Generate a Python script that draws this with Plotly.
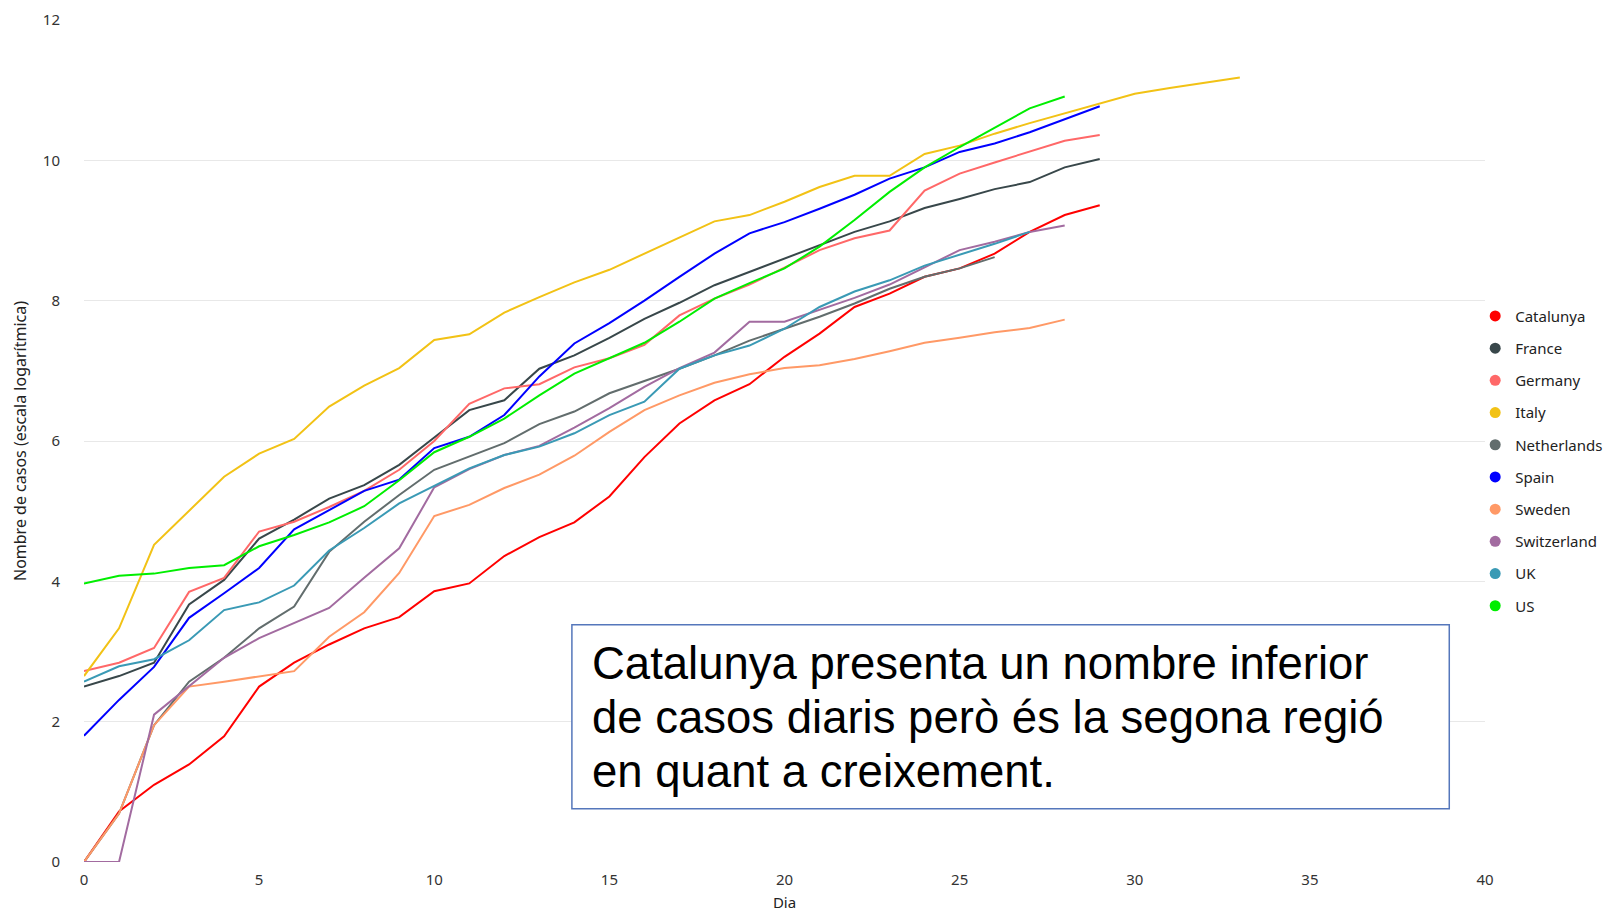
import plotly.graph_objects as go

# log of cumulative cases per day since the first case
catalunya = [0, 0.72, 1.10, 1.39, 1.79, 2.50, 2.84, 3.10, 3.33, 3.49, 3.86, 3.97, 4.36, 4.63, 4.84,
             5.21, 5.77, 6.25, 6.58, 6.81, 7.20, 7.53, 7.91, 8.10, 8.34, 8.46, 8.67, 8.98, 9.22, 9.36]
france = [2.50, 2.65, 2.84, 3.67, 4.02, 4.61, 4.88, 5.18, 5.37, 5.66, 6.05, 6.44, 6.58, 7.03, 7.22,
          7.47, 7.74, 7.97, 8.22, 8.41, 8.59, 8.78, 8.98, 9.13, 9.32, 9.45, 9.59, 9.69, 9.90, 10.02]
germany = [2.72, 2.84, 3.05, 3.85, 4.05, 4.71, 4.85, 5.06, 5.29, 5.59, 6.00, 6.53, 6.75, 6.81, 7.05,
           7.18, 7.37, 7.79, 8.03, 8.23, 8.47, 8.72, 8.89, 9.00, 9.57, 9.81, 9.97, 10.12, 10.28, 10.36]
italy = [2.65, 3.33, 4.52, 5.00, 5.49, 5.82, 6.03, 6.49, 6.79, 7.04, 7.44, 7.52, 7.83, 8.05, 8.26,
         8.44, 8.67, 8.91, 9.13, 9.22, 9.41, 9.62, 9.78, 9.78, 10.09, 10.21, 10.38, 10.53, 10.67,
         10.81, 10.95, 11.03, 11.10, 11.18]
netherlands = [0, 0.69, 1.95, 2.57, 2.91, 3.33, 3.64, 4.42, 4.85, 5.23, 5.59, 5.78, 5.97, 6.24,
               6.42, 6.68, 6.85, 7.03, 7.22, 7.43, 7.60, 7.77, 7.96, 8.17, 8.34, 8.46, 8.62]
spain = [1.80, 2.31, 2.78, 3.48, 3.83, 4.19, 4.74, 5.02, 5.29, 5.45, 5.90, 6.06, 6.37, 6.92, 7.39,
         7.68, 8.00, 8.34, 8.67, 8.96, 9.12, 9.31, 9.51, 9.74, 9.90, 10.12, 10.24, 10.40, 10.59, 10.77]
sweden = [0, 0.69, 1.95, 2.50, 2.57, 2.65, 2.72, 3.21, 3.56, 4.12, 4.93, 5.09, 5.33, 5.52, 5.79,
          6.13, 6.44, 6.65, 6.83, 6.95, 7.04, 7.08, 7.17, 7.28, 7.40, 7.47, 7.55, 7.61, 7.73]
switzerland = [0, 0, 2.10, 2.50, 2.91, 3.19, 3.41, 3.62, 4.05, 4.47, 5.34, 5.60, 5.80, 5.93, 6.19,
               6.47, 6.77, 7.04, 7.26, 7.70, 7.70, 7.87, 8.04, 8.23, 8.48, 8.72, 8.84, 8.98, 9.07]
uk = [2.57, 2.79, 2.89, 3.16, 3.59, 3.70, 3.94, 4.44, 4.76, 5.11, 5.36, 5.61, 5.80, 5.92, 6.11,
      6.37, 6.56, 7.03, 7.22, 7.36, 7.60, 7.91, 8.13, 8.29, 8.50, 8.65, 8.81, 8.98]
us = [3.97, 4.08, 4.11, 4.19, 4.23, 4.50, 4.66, 4.84, 5.07, 5.44, 5.84, 6.06, 6.32, 6.65, 6.96,
      7.18, 7.40, 7.70, 8.03, 8.25, 8.46, 8.77, 9.15, 9.55, 9.90, 10.19, 10.47, 10.74, 10.91]

names = ['Catalunya', 'France', 'Germany', 'Italy', 'Netherlands', 'Spain', 'Sweden',
         'Switzerland', 'UK', 'US']
series = [catalunya, france, germany, italy, netherlands, spain, sweden, switzerland, uk, us]
colors = ['#FF0000', '#38474A', '#FF6868', '#F2C215', '#626D6D', '#0000FF', '#FF9966',
          '#A26BA0', '#3A9AB5', '#00EE00']

note_lines = ['Catalunya presenta un nombre inferior',
              'de casos diaris però és la segona regió',
              'en quant a creixement.']
note_y = [2.83, 2.06, 1.29]

fig = go.Figure()

for name, vals, col in zip(names, series, colors):
    fig.add_trace(go.Scatter(
        x=list(range(len(vals))), y=vals, mode='lines', name=name,
        line=dict(color=col, width=2), legendgroup=name, showlegend=False
    ))
    # dot-style legend entry
    fig.add_trace(go.Scatter(
        x=[None], y=[None], mode='markers', name=name, legendgroup=name,
        marker=dict(color=col, size=11)
    ))

# text box
fig.add_shape(type='rect', xref='x', yref='y', x0=13.93, x1=38.98, y0=0.76, y1=3.38,
              line=dict(color='#5577BB', width=1.5), fillcolor='white', layer='above')
for txt, yy in zip(note_lines, note_y):
    fig.add_annotation(x=14.45, y=yy, xref='x', yref='y', text=txt, showarrow=False,
                       xanchor='left', yanchor='middle', align='left',
                       font=dict(family='Liberation Sans, Arial', size=45.5, color='black'))

fig.update_layout(
    template='none',
    width=1610, height=912,
    margin=dict(l=84, r=125, t=19.5, b=49.5, autoexpand=False),
    plot_bgcolor='white', paper_bgcolor='white',
    font=dict(family='Noto Sans', size=15, color='#333333'),
    legend=dict(x=0.993, xanchor='left', y=0.476, yanchor='middle',
                bgcolor='rgba(0,0,0,0)',
                font=dict(family='Noto Sans', size=15, color='#222222'),
                traceorder='grouped', tracegroupgap=9.7, itemwidth=30),
    showlegend=True,
)
fig.update_xaxes(range=[0, 40], dtick=5, showgrid=False, zeroline=False, showline=False,
                 ticks='outside', ticklen=4, tickcolor='rgba(0,0,0,0)', automargin=False,
                 tickfont=dict(family='Noto Sans', size=15, color='#333333'),
                 title=dict(text='Dia', standoff=10, font=dict(size=15, color='#222222')))
fig.update_yaxes(range=[0, 12], dtick=2, showgrid=True, gridcolor='#E8E8E8', zeroline=False,
                 showline=False, ticks='outside', ticklen=20, tickcolor='rgba(0,0,0,0)',
                 automargin=False,
                 tickfont=dict(family='Noto Sans', size=15, color='#333333'),
                 title=dict(text='Nombre de casos (escala logarítmica)', standoff=12,
                            font=dict(size=16, color='#222222')))

fig.write_html('out.html', config={'displayModeBar': False},
               post_script="document.body.style.margin='0';")
